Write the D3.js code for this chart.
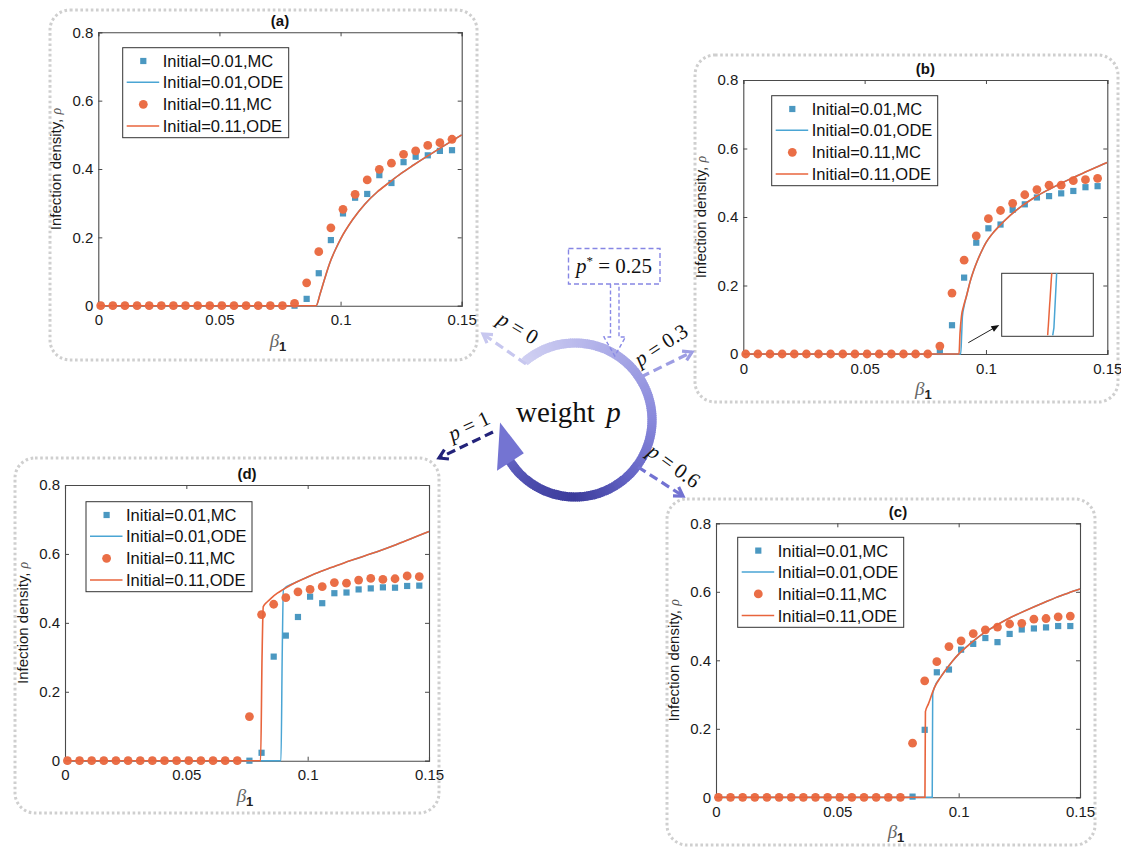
<!DOCTYPE html>
<html>
<head>
<meta charset="utf-8">
<script src="https://cdn.jsdelivr.net/npm/d3@7"></script>
<style>
  body { margin: 0; background: #fff; }
  svg { display: block; }
</style>
</head>
<body>
<svg id="fig" width="1121" height="849"></svg>
<script>
// ---- shared axis values ----
const betaValues = [0.001, 0.006, 0.011, 0.016, 0.021, 0.026, 0.031, 0.036, 0.041, 0.046,
                    0.051, 0.056, 0.061, 0.066, 0.071, 0.076, 0.081, 0.086, 0.091, 0.096,
                    0.101, 0.106, 0.111, 0.116, 0.121, 0.126, 0.131, 0.136, 0.141, 0.146];
const xTickValues = [0, 0.05, 0.1, 0.15];
const xTickLabels = ["0", "0.05", "0.1", "0.15"];
const yTickValues = [0, 0.2, 0.4, 0.6, 0.8];
const yTickLabels = ["0", "0.2", "0.4", "0.6", "0.8"];
const legendLabels = ["Initial=0.01,MC", "Initial=0.01,ODE", "Initial=0.11,MC", "Initial=0.11,ODE"];
const panelTitles = ["(a)", "(b)", "(c)", "(d)"];
const weightValues = ["0", "0.3", "0.6", "1"];
const criticalWeight = "0.25";

// ---- panel (a): p = 0 ----
const mcA_low  = [0,0,0,0,0,0,0,0,0,0,0,0,0,0,0,0, 0, 0.020, 0.095, 0.192, 0.270, 0.316, 0.327, 0.382, 0.359, 0.420, 0.436, 0.440, 0.453, 0.455];
const mcA_high = [0,0,0,0,0,0,0,0,0,0,0,0,0,0,0,0, 0.007, 0.067, 0.158, 0.228, 0.282, 0.326, 0.368, 0.399, 0.417, 0.443, 0.453, 0.469, 0.477, 0.487];
const odeA_low  = [[0,0],[0.0899,0],[0.0916,0.036],[0.0937,0.085],[0.0957,0.128],[0.0978,0.163],[0.1,0.195],[0.105,0.252],[0.11,0.297],[0.115,0.332],[0.12,0.360],[0.125,0.387],[0.13,0.411],[0.135,0.434],[0.14,0.456],[0.145,0.478],[0.15,0.500]];
const odeA_high = [[0,0],[0.0899,0],[0.0916,0.036],[0.0937,0.085],[0.0957,0.128],[0.0978,0.163],[0.1,0.195],[0.105,0.252],[0.11,0.297],[0.115,0.332],[0.12,0.360],[0.125,0.387],[0.13,0.411],[0.135,0.434],[0.14,0.456],[0.145,0.478],[0.15,0.500]];

// ---- panel (b): p = 0.3 ----
const mcB_low  = [0,0,0,0,0,0,0,0,0,0,0,0,0,0,0,0, 0.006, 0.084, 0.223, 0.325, 0.367, 0.378, 0.421, 0.437, 0.457, 0.461, 0.469, 0.476, 0.487, 0.490];
const mcB_high = [0,0,0,0,0,0,0,0,0,0,0,0,0,0,0,0, 0.023, 0.178, 0.274, 0.345, 0.395, 0.419, 0.440, 0.465, 0.480, 0.493, 0.493, 0.506, 0.509, 0.513];
const odeB_low  = [[0,0],[0.0896,0],[0.0900,0.06],[0.0903,0.11],[0.0910,0.14],[0.092,0.170],[0.0935,0.212],[0.095,0.245],[0.0965,0.273],[0.098,0.297],[0.1,0.325],[0.1025,0.350],[0.105,0.370],[0.11,0.405],[0.115,0.433],[0.12,0.457],[0.125,0.477],[0.13,0.495],[0.135,0.512],[0.14,0.528],[0.145,0.544],[0.15,0.559]];
const odeB_high = [[0,0],[0.0889,0],[0.0893,0.06],[0.0899,0.11],[0.0908,0.14],[0.092,0.170],[0.0935,0.212],[0.095,0.245],[0.0965,0.273],[0.098,0.297],[0.1,0.325],[0.1025,0.350],[0.105,0.370],[0.11,0.405],[0.115,0.433],[0.12,0.457],[0.125,0.477],[0.13,0.495],[0.135,0.512],[0.14,0.528],[0.145,0.544],[0.15,0.559]];
// magnified view of the two onsets (inset axes)
const insetXDomain = [0.0884, 0.0894];
const insetYDomain = [0, 0.1];
const insetB_low  = [[0.088957,0],[0.08897,0.012],[0.0890,0.1]];
const insetB_high = [[0.088902,0],[0.088946,0.1]];

// ---- panel (c): p = 0.6 ----
const mcC_low  = [0,0,0,0,0,0,0,0,0,0,0,0,0,0,0,0, 0.002, 0.197, 0.365, 0.373, 0.431, 0.448, 0.465, 0.453, 0.477, 0.490, 0.493, 0.496, 0.500, 0.500];
const mcC_high = [0,0,0,0,0,0,0,0,0,0,0,0,0,0,0,0, 0.158, 0.340, 0.396, 0.440, 0.457, 0.478, 0.489, 0.497, 0.506, 0.508, 0.520, 0.522, 0.527, 0.529];
const odeC_low  = [[0,0],[0.0891,0],[0.0893,0.300],[0.09,0.320],[0.0925,0.350],[0.095,0.375],[0.0975,0.398],[0.1,0.418],[0.105,0.450],[0.11,0.478],[0.115,0.500],[0.12,0.520],[0.125,0.537],[0.13,0.553],[0.135,0.568],[0.14,0.583],[0.145,0.596],[0.15,0.608]];
const odeC_high = [[0,0],[0.0861,0],[0.0863,0.250],[0.0875,0.272],[0.09,0.320],[0.0925,0.350],[0.095,0.375],[0.0975,0.398],[0.1,0.418],[0.105,0.450],[0.11,0.478],[0.115,0.500],[0.12,0.520],[0.125,0.537],[0.13,0.553],[0.135,0.568],[0.14,0.583],[0.145,0.596],[0.15,0.608]];

// ---- panel (d): p = 1 ----
const mcD_low  = [0,0,0,0,0,0,0,0,0,0,0,0,0,0,0, 0, 0.023, 0.302, 0.363, 0.417, 0.476, 0.457, 0.486, 0.488, 0.497, 0.500, 0.503, 0.502, 0.507, 0.508];
const mcD_high = [0,0,0,0,0,0,0,0,0,0,0,0,0,0,0, 0.128, 0.424, 0.454, 0.473, 0.490, 0.497, 0.505, 0.517, 0.515, 0.524, 0.529, 0.526, 0.528, 0.536, 0.534];
const odeD_low  = [[0,0],[0.0890,0],[0.0895,0.300],[0.0900,0.497],[0.095,0.517],[0.1,0.533],[0.105,0.548],[0.11,0.561],[0.115,0.574],[0.12,0.586],[0.125,0.598],[0.13,0.610],[0.135,0.623],[0.14,0.637],[0.145,0.651],[0.15,0.665]];
const odeD_high = [[0,0],[0.0806,0],[0.0812,0.300],[0.0817,0.447],[0.0835,0.462],[0.085,0.472],[0.0875,0.486],[0.09,0.497],[0.095,0.517],[0.1,0.533],[0.105,0.548],[0.11,0.561],[0.115,0.574],[0.12,0.586],[0.125,0.598],[0.13,0.610],[0.135,0.623],[0.14,0.637],[0.145,0.651],[0.15,0.665]];

// ---- styles ----
const colSquare = "#4b98c1";
const colCircle = "#ea6e46";
const colLineLow = "#4aa5d4";
const colLineHigh = "#e8643c";
const axisColor = "#4a4a4a";
const sansFont = "'Liberation Sans', Arial, Helvetica, sans-serif";
const serifFont = "'Liberation Serif', 'Times New Roman', serif";

const svg = d3.select("#fig");

const panels = [
  { title: panelTitles[0], frame: [50, 10, 477, 360],   plot: [98.3, 32.3, 461.7, 305.7], legend: [24.4, 15.4],
    low: mcA_low, high: mcA_high, odeLow: odeA_low, odeHigh: odeA_high },
  { title: panelTitles[1], frame: [695, 55, 1118, 402],  plot: [743.3, 80, 1107.3, 354],   legend: [28.4, 15.7],
    low: mcB_low, high: mcB_high, odeLow: odeB_low, odeHigh: odeB_high, inset: true },
  { title: panelTitles[2], frame: [667, 499, 1095, 845], plot: [716, 523.3, 1080, 797.3],  legend: [21.7, 14.0],
    low: mcC_low, high: mcC_high, odeLow: odeC_low, odeHigh: odeC_high },
  { title: panelTitles[3], frame: [15, 458, 439, 813],   plot: [65, 485, 429, 760.7],      legend: [21.0, 16.7],
    low: mcD_low, high: mcD_high, odeLow: odeD_low, odeHigh: odeD_high }
];

// dotted rounded frames behind each panel
panels.forEach(p => {
  const [x0, y0, x1, y1] = p.frame;
  svg.append("rect")
    .attr("x", x0).attr("y", y0).attr("width", x1 - x0).attr("height", y1 - y0)
    .attr("rx", 20).attr("ry", 20)
    .attr("fill", "none").attr("stroke", "#cfcfcf")
    .attr("stroke-width", 3).attr("stroke-dasharray", "2.6,2.6");
});

function drawPanel(p) {
  const [L, T, R, B] = p.plot;
  const x = d3.scaleLinear().domain([0, 0.15]).range([L, R]);
  const y = d3.scaleLinear().domain([0, 0.8]).range([B, T]);
  const g = svg.append("g");

  g.append("rect").attr("x", L).attr("y", T).attr("width", R - L).attr("height", B - T)
    .attr("fill", "#fff");

  const tickLen = 4;
  const fmtX = (d, i) => xTickLabels[i];
  const fmtY = (d, i) => yTickLabels[i];

  const axB = g.append("g").attr("transform", `translate(0,${B})`)
    .call(d3.axisBottom(x).tickValues(xTickValues).tickFormat(fmtX).tickSize(-tickLen).tickPadding(9));
  const axT = g.append("g").attr("transform", `translate(0,${T})`)
    .call(d3.axisTop(x).tickValues(xTickValues).tickFormat("").tickSize(-tickLen));
  const axL = g.append("g").attr("transform", `translate(${L},0)`)
    .call(d3.axisLeft(y).tickValues(yTickValues).tickFormat(fmtY).tickSize(-tickLen).tickPadding(5));
  const axR = g.append("g").attr("transform", `translate(${R},0)`)
    .call(d3.axisRight(y).tickValues(yTickValues).tickFormat("").tickSize(-tickLen));
  [axB, axT, axL, axR].forEach(a => {
    a.selectAll("path.domain").attr("stroke", axisColor).attr("stroke-width", 1.1);
    a.selectAll(".tick line").attr("stroke", axisColor).attr("stroke-width", 1);
    a.selectAll("text").attr("font-family", sansFont).attr("font-size", 15).attr("fill", "#1a1a1a");
  });

  // title
  g.append("text").attr("x", (L + R) / 2).attr("y", T - 6)
    .attr("text-anchor", "middle").attr("font-family", sansFont)
    .attr("font-size", 15).attr("font-weight", "bold").attr("fill", "#111").text(p.title);

  // y label
  const yl = g.append("text")
    .attr("transform", `translate(${L - 37.5},${(T + B) / 2}) rotate(-90)`)
    .attr("text-anchor", "middle").attr("font-family", sansFont)
    .attr("font-size", 15).attr("fill", "#1a1a1a");
  yl.append("tspan").text("Infection density, ");
  yl.append("tspan").attr("font-family", serifFont).attr("font-style", "italic")
    .attr("font-size", 14).attr("fill", "#555").text("ρ");

  // x label
  const xl = g.append("text").attr("x", (L + R) / 2 - 2).attr("y", B + 41)
    .attr("text-anchor", "middle").attr("font-family", serifFont);
  xl.append("tspan").attr("font-style", "italic").attr("font-size", 19).attr("fill", "#666").text("β");
  xl.append("tspan").attr("font-family", sansFont).attr("font-weight", "bold")
    .attr("font-size", 13).attr("fill", "#222").attr("dy", 4).text("1");

  const line = d3.line().x(d => x(d[0])).y(d => y(d[1])).curve(d3.curveMonotoneX);
  const sq = 6.2, rc = 4.4;

  // Initial = 0.01: MC squares and ODE curve
  g.append("g").selectAll("rect").data(betaValues).join("rect")
    .attr("x", (d) => x(d) - sq / 2).attr("y", (d, i) => y(p.low[i]) - sq / 2)
    .attr("width", sq).attr("height", sq).attr("fill", colSquare);
  g.append("path").datum(p.odeLow).attr("d", line)
    .attr("fill", "none").attr("stroke", colLineLow).attr("stroke-width", 1.5);

  // Initial = 0.11: MC circles and ODE curve
  g.append("g").selectAll("circle").data(betaValues).join("circle")
    .attr("cx", d => x(d)).attr("cy", (d, i) => y(p.high[i])).attr("r", rc)
    .attr("fill", colCircle);
  g.append("path").datum(p.odeHigh).attr("d", line)
    .attr("fill", "none").attr("stroke", colLineHigh).attr("stroke-width", 1.6);

  // legend
  const lx = L + p.legend[0], ly = T + p.legend[1];
  const lg = g.append("g").attr("transform", `translate(${lx},${ly})`);
  lg.append("rect").attr("width", 166).attr("height", 90)
    .attr("fill", "#fff").attr("stroke", "#333").attr("stroke-width", 1);
  const rows = [13.3, 34.6, 56.6, 78.3];
  rows.forEach((ry, i) => {
    if (i === 0) lg.append("rect").attr("x", 20.6 - sq / 2).attr("y", ry - sq / 2)
      .attr("width", sq).attr("height", sq).attr("fill", colSquare);
    if (i === 2) lg.append("circle").attr("cx", 20.6).attr("cy", ry).attr("r", rc).attr("fill", colCircle);
    if (i === 1 || i === 3) lg.append("line").attr("x1", 4).attr("x2", 36.5).attr("y1", ry).attr("y2", ry)
      .attr("stroke", i === 1 ? colLineLow : colLineHigh).attr("stroke-width", 1.5);
    lg.append("text").attr("x", 40).attr("y", ry + 6)
      .attr("font-family", sansFont).attr("font-size", 16.5).attr("fill", "#111")
      .text(legendLabels[i]);
  });

  if (p.inset) {
    const ix0 = 1001.7, iy0 = 273.3, ix1 = 1093.3, iy1 = 336.3;
    const xi = d3.scaleLinear().domain(insetXDomain).range([ix0, ix1]);
    const yi = d3.scaleLinear().domain(insetYDomain).range([iy1 - 1, iy0]);
    const lineI = d3.line().x(d => xi(d[0])).y(d => yi(d[1]));
    const ig = g.append("g");
    ig.append("rect").attr("x", ix0).attr("y", iy0).attr("width", ix1 - ix0).attr("height", iy1 - iy0)
      .attr("fill", "#fff").attr("stroke", "#333").attr("stroke-width", 1);
    ig.append("path").datum(insetB_low).attr("d", lineI)
      .attr("fill", "none").attr("stroke", colLineLow).attr("stroke-width", 1.5);
    ig.append("path").datum(insetB_high).attr("d", lineI)
      .attr("fill", "none").attr("stroke", colLineHigh).attr("stroke-width", 1.5);
    // pointer from the onset region to the inset
    const ax0 = 968.3, ay0 = 342.7, ax1 = 999.3, ay1 = 325;
    const ang = Math.atan2(ay1 - ay0, ax1 - ax0);
    g.append("line").attr("x1", ax0).attr("y1", ay0).attr("x2", ax1 - 6 * Math.cos(ang)).attr("y2", ay1 - 6 * Math.sin(ang))
      .attr("stroke", "#222").attr("stroke-width", 1);
    const hl = 8, hw = 3.2;
    const bx = ax1 - hl * Math.cos(ang), by = ay1 - hl * Math.sin(ang);
    g.append("path").attr("d", `M${ax1},${ay1} L${bx + hw * Math.sin(ang)},${by - hw * Math.cos(ang)} L${bx - hw * Math.sin(ang)},${by + hw * Math.cos(ang)} Z`)
      .attr("fill", "#111");
  }
}

panels.forEach(drawPanel);

// ---- central diagram: cyclic arrow for the weight p ----
const cx = 575, cy = 420, Rr = 77;
const deg = Math.PI / 180;
const pt = (a, r) => [cx + r * Math.sin(a * deg), cy - r * Math.cos(a * deg)];
const ringColor = d3.scaleLinear()
  .domain([-41, 0, 90, 135, 180, 215, 240])
  .range(["#d0d0f2", "#babaec", "#8888db", "#6565c5", "#3b3b9b", "#4d4dad", "#6464c2"])
  .interpolate(d3.interpolateRgb);
const arcGen = d3.arc().innerRadius(Rr - 4.6).outerRadius(Rr + 4.6);
const ring = svg.append("g").attr("transform", `translate(${cx},${cy})`);
for (let a = -41; a < 240; a += 1.5) {
  ring.append("path")
    .attr("d", arcGen({ startAngle: a * deg, endAngle: Math.min(a + 2.2, 240) * deg }))
    .attr("fill", ringColor(a));
}
// arrowhead at the end of the ring
{
  const b1 = pt(237, Rr - 16), b2 = pt(237, Rr + 16), tip = pt(268, Rr - 2);
  svg.append("path").attr("d", `M${b1[0]},${b1[1]} L${tip[0]},${tip[1]} L${b2[0]},${b2[1]} Z`)
    .attr("fill", "#7474d2");
}

const wt = svg.append("text").attr("x", 516).attr("y", 422)
  .attr("font-family", serifFont).attr("font-size", 29).attr("fill", "#111");
wt.append("tspan").text("weight ");
wt.append("tspan").attr("font-style", "italic").attr("dx", 4).text("p");

// dashed arrows from the ring to each panel
function dashedArrow(x0, y0, x1, y1, color) {
  const ang = Math.atan2(y1 - y0, x1 - x0);
  svg.append("line").attr("x1", x0).attr("y1", y0).attr("x2", x1).attr("y2", y1)
    .attr("stroke", color).attr("stroke-width", 3.2).attr("stroke-dasharray", "9,5");
  const hl = 10;
  const a1 = ang + Math.PI - 0.55, a2 = ang + Math.PI + 0.55;
  svg.append("path")
    .attr("d", `M${x1 + hl * Math.cos(a1)},${y1 + hl * Math.sin(a1)} L${x1},${y1} L${x1 + hl * Math.cos(a2)},${y1 + hl * Math.sin(a2)}`)
    .attr("fill", "none").attr("stroke", color).attr("stroke-width", 3.2).attr("stroke-linejoin", "miter");
}
dashedArrow(526, 364, 483, 334, "#c7c7ef");
dashedArrow(641, 377, 692, 352, "#9d9de3");
dashedArrow(638, 467, 683, 496, "#7272d2");
dashedArrow(493, 432, 439, 458, "#23237a");

function weightLabel(cxL, cyL, rot, val) {
  const t = svg.append("text")
    .attr("transform", `translate(${cxL},${cyL}) rotate(${rot})`)
    .attr("text-anchor", "middle").attr("dominant-baseline", "central")
    .attr("font-family", serifFont).attr("font-size", 21).attr("fill", "#111");
  t.append("tspan").attr("font-style", "italic").text("p");
  t.append("tspan").text(" = " + val);
}
weightLabel(518, 328, 31, weightValues[0]);
weightLabel(661, 345, -33, weightValues[1]);
weightLabel(674, 466, 36, weightValues[2]);
weightLabel(469, 426, -25, weightValues[3]);

// critical-weight marker
svg.append("rect").attr("x", 568.5).attr("y", 248.5).attr("width", 91.5).attr("height", 35.5)
  .attr("fill", "#fff").attr("stroke", "#8686e4").attr("stroke-width", 1.4).attr("stroke-dasharray", "5,3");
{
  const t = svg.append("text").attr("x", 614).attr("y", 273)
    .attr("text-anchor", "middle").attr("font-family", serifFont)
    .attr("font-size", 21).attr("fill", "#111");
  t.append("tspan").attr("font-style", "italic").text("p");
  t.append("tspan").attr("font-size", 13).attr("dy", -8).text("*");
  t.append("tspan").attr("dy", 8).text(" = " + criticalWeight);
}
svg.append("path")
  .attr("d", "M610.5,284 V337 H604 L614.8,356 L625.5,337 H619 V284")
  .attr("fill", "none").attr("stroke", "#8a8ae6").attr("stroke-width", 1.4)
  .attr("stroke-dasharray", "4,2.5");
</script>
</body>
</html>
